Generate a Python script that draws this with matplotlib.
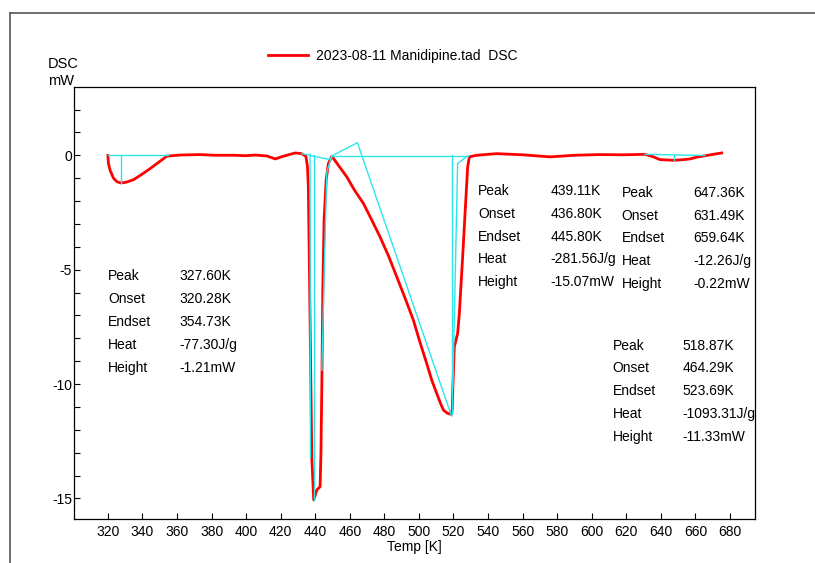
import matplotlib
matplotlib.use("Agg")
import matplotlib.pyplot as plt
from matplotlib.lines import Line2D
from matplotlib.ticker import MultipleLocator

plt.rcParams["font.family"] = ["Liberation Sans", "DejaVu Sans"]
plt.rcParams["axes.unicode_minus"] = False

# DSC trace (temperature in K, heat flow in mW)
temp = [320.0, 320.3, 321.3, 323.2, 325.3, 327.6, 330.5, 334.8, 339.5, 344.5,
        349.5, 354.1, 361.8, 373.4, 382.0, 392.7, 400.0, 405.0, 412.0, 416.8,
        421.6, 428.4, 432.2, 434.6, 435.5, 436.0, 437.0, 438.0, 439.11, 440.9,
        442.8, 443.3, 443.8, 444.4, 445.1, 446.3, 447.6, 449.6, 453.5, 458.3,
        462.5, 467.9, 472.5, 477.5, 482.5, 487.2, 492.0, 496.8, 500.5, 504.5,
        507.5, 510.3, 512.5, 514.2, 516.5, 518.87, 519.3, 519.6, 520.5, 522.4,
        523.4, 525.3, 526.9, 528.2, 529.2, 533.5, 545.0, 560.0, 575.9, 590.0,
        604.8, 618.0, 630.8, 635.0, 639.5, 647.36, 652.0, 656.9, 661.0, 666.5,
        671.0, 675.2]
dsc = [-0.01, -0.36, -0.66, -1.0, -1.16, -1.21, -1.18, -1.07, -0.84, -0.58,
       -0.30, -0.04, 0.01, 0.03, 0.0, 0.0, -0.02, 0.01, -0.03, -0.16,
       -0.04, 0.10, 0.07, -0.05, -0.5, -1.38, -7.21, -13.2, -15.07, -14.63,
       -14.49, -13.0, -10.1, -5.75, -2.84, -1.09, -0.36, -0.04, -0.45, -0.95,
       -1.5, -2.11, -2.8, -3.57, -4.42, -5.32, -6.25, -7.21, -8.15, -9.10,
       -9.85, -10.41, -10.85, -11.14, -11.28, -11.33, -11.1, -10.2, -8.37, -7.79,
       -6.9, -4.44, -2.26, -0.51, -0.07, 0.0, 0.07, 0.02, -0.07, 0.0,
       0.03, 0.02, 0.04, -0.05, -0.19, -0.22, -0.20, -0.16, -0.08, -0.01,
       0.05, 0.10]

# evaluated peaks
peak = [327.60, 439.11, 518.87, 647.36]
onset = [320.28, 436.80, 464.29, 631.49]
endset = [354.73, 445.80, 523.69, 659.64]
heat = [-77.30, -281.56, -1093.31, -12.26]
height = [-1.21, -15.07, -11.33, -0.22]

# baselines and tangents of the peak evaluation
base_lines = [
    ([320.0, 354.7], [0.0, 0.0]),
    ([432.2, 448.6, 449.6], [0.07, -0.19, -0.03]),
    ([437.0, 437.2], [0.05, -13.2]),
    ([449.6, 446.7, 445.3, 443.8], [-0.03, -0.73, -4.8, -9.4]),
    ([449.6, 464.4, 518.87], [-0.03, 0.55, -11.40]),
    ([449.6, 528.2], [-0.03, -0.03]),
    ([528.2, 522.4, 519.6], [-0.03, -0.36, -10.2]),
    ([630.8, 665.5], [0.04, -0.01]),
]

# where each result table sits (label x, value x, first row y)
table_pos = [(320.0, 361.5, -5.30), (534.3, 576.0, -1.57),
             (612.0, 652.7, -8.32), (617.4, 658.9, -1.64)]
row_step = 0.995

fig = plt.figure(figsize=(8.15, 5.63), dpi=100)
ax = fig.add_axes([0.0902, 0.0782, 0.8362, 0.7667])

ax.plot(temp, dsc, color="red", lw=2.0, zorder=3,
        label="2023-08-11 Manidipine.tad  DSC")
for xs, ys in base_lines:
    ax.plot(xs, ys, color="#2ce6ea", lw=1.0, zorder=4)
for p, h in zip(peak, height):
    ax.plot([p, p], [0.0, h], color="#2ce6ea", lw=1.0, zorder=4)

names = ["Peak", "Onset", "Endset", "Heat", "Height"]
for i, (lx, vx, y0) in enumerate(table_pos):
    vals = [f"{peak[i]:.2f}K", f"{onset[i]:.2f}K", f"{endset[i]:.2f}K",
            f"{heat[i]:.2f}J/g", f"{height[i]:.2f}mW"]
    for j, (n, v) in enumerate(zip(names, vals)):
        y = y0 - j * row_step
        ax.text(lx, y, n, fontsize=10, va="center", ha="left", clip_on=True)
        ax.text(vx, y, v, fontsize=10, va="center", ha="left", clip_on=True)

ax.set_xlim(300.1, 694.5)
ax.set_ylim(-15.9, 2.97)
ax.set_xticks(range(320, 681, 20))
ax.yaxis.set_major_locator(MultipleLocator(5))
ax.yaxis.set_minor_locator(MultipleLocator(1))
ax.tick_params(axis="both", which="both", direction="in", length=4.5,
               width=0.8, labelsize=10)
ax.tick_params(axis="x", pad=4)
ax.tick_params(axis="y", pad=1)
for s in ax.spines.values():
    s.set_linewidth(0.9)
ax.set_xlabel("Temp [K]", fontsize=10, labelpad=1)

fig.text(0.0589, 0.887, "DSC", fontsize=10.5, va="center", ha="left")
fig.text(0.0589, 0.857, "mW", fontsize=10.5, va="center", ha="left")

fig.legend(loc="center left", bbox_to_anchor=(268 / 815, 1 - 55.7 / 563),
           frameon=False, fontsize=10, borderpad=0, borderaxespad=0,
           handlelength=2.9, handletextpad=0.55)

# outer page frame
fig.add_artist(Line2D([10 / 815, 1.0], [1 - 13 / 563, 1 - 13 / 563],
                      transform=fig.transFigure, color="#555555", lw=1.2))
fig.add_artist(Line2D([10 / 815, 10 / 815], [0.0, 1 - 13 / 563],
                      transform=fig.transFigure, color="#555555", lw=1.2))

fig.savefig("out.png", dpi=100)
